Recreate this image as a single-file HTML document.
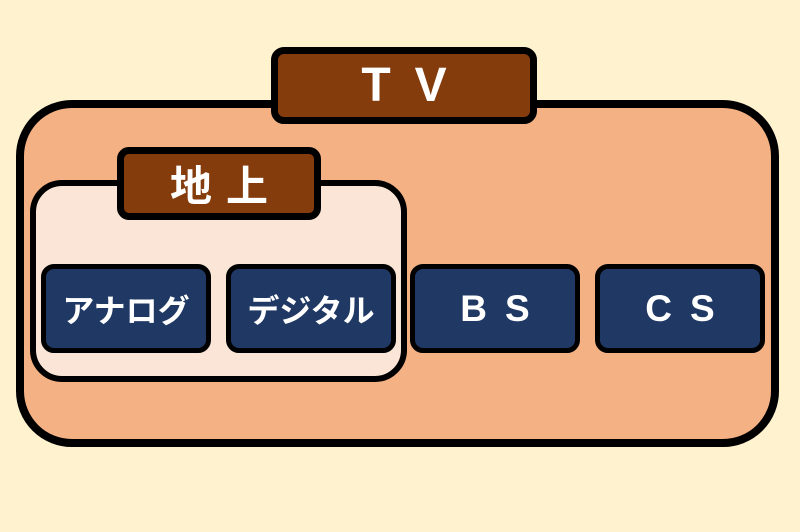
<!DOCTYPE html>
<html><head><meta charset="utf-8"><style>
html,body{margin:0;padding:0;}
body{width:800px;height:532px;background:#FFF2CF;position:relative;overflow:hidden;font-family:"Liberation Sans","Noto Sans CJK JP",sans-serif;}
.b{position:absolute;box-sizing:border-box;border:solid #000;}
.lbl{display:flex;align-items:center;justify-content:center;color:#fff;font-weight:bold;}
</style></head><body>
<div class="b" style="left:16px;top:100px;width:763px;height:347px;border-width:8px;border-radius:56px;background:#F4B184;"></div>
<div class="b lbl" style="left:271px;top:47px;width:266px;height:77px;border-width:7px;border-radius:13px;background:#843C0C;font-size:48px;letter-spacing:24px;padding-left:24px;">TV</div>
<div class="b" style="left:30px;top:180px;width:377px;height:202px;border-width:6px;border-radius:32px;background:#FBE5D6;"></div>
<div class="b lbl" style="left:117px;top:147px;width:204px;height:73px;border-width:7px;border-radius:12px;background:#843C0C;font-size:42px;letter-spacing:14px;padding-left:14px;">地上</div>
<div class="b lbl" style="left:41px;top:264px;width:170px;height:89px;border-width:5px;border-radius:13px;background:#203864;font-size:32px;">アナログ</div>
<div class="b lbl" style="left:226px;top:264px;width:170px;height:89px;border-width:5px;border-radius:13px;background:#203864;font-size:32px;">デジタル</div>
<div class="b lbl" style="left:410px;top:264px;width:170px;height:89px;border-width:5px;border-radius:13px;background:#203864;font-size:37px;letter-spacing:18px;padding-left:18px;">BS</div>
<div class="b lbl" style="left:595px;top:264px;width:170px;height:89px;border-width:5px;border-radius:13px;background:#203864;font-size:37px;letter-spacing:18px;padding-left:18px;">CS</div>
</body></html>
